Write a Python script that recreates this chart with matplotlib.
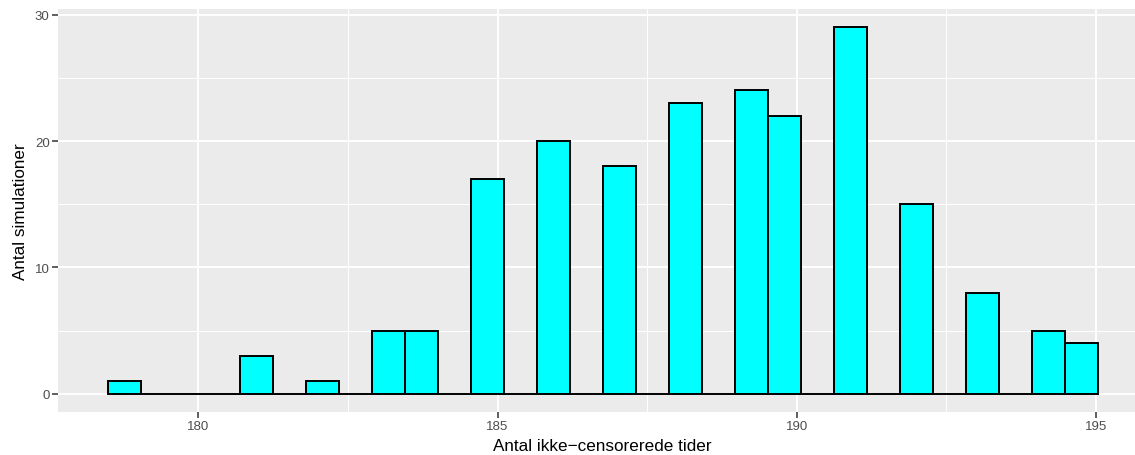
import numpy as np
import matplotlib
matplotlib.use("Agg")
import matplotlib.pyplot as plt
from matplotlib.ticker import MultipleLocator

# antal ikke-censorerede tider og hvor mange simulationer der gav dem
tider = [179, 180, 181, 182, 183, 184, 185, 186, 187, 188, 189, 190, 191, 192, 193, 194, 195]
antal = [1, 0, 3, 1, 5, 5, 17, 20, 18, 23, 24, 22, 29, 15, 8, 5, 4]

# ggplot2 bins=30 logic (right-closed bins)
nbins = 30
lo, hi = min(tider), max(tider)
width = (hi - lo) / (nbins - 1)
boundary = width / 2
shift = np.floor((lo - boundary) / width)
origin = boundary + shift * width
edges = origin + np.arange(nbins + 1) * width

fuzz = 1e-7 * width
idx = np.digitize(np.array(tider) - fuzz, edges, right=True) - 1
idx = np.clip(idx, 0, nbins - 1)
counts = np.zeros(nbins)
np.add.at(counts, idx, antal)

plt.rcParams['font.family'] = ['Liberation Sans', 'DejaVu Sans']

fig = plt.figure(figsize=(11.35, 4.56), dpi=100)
ax = fig.add_axes([58/1135, 43/456, 1089.6/1135, 403/456])
ax.set_facecolor('#EBEBEB')

ax.bar(edges[:-1], counts, width=width, align='edge', color='#00FFFF',
       edgecolor='black', linewidth=1.4, zorder=3)

xr = edges[-1] - edges[0]
ax.set_xlim(edges[0] - 0.05*xr, edges[-1] + 0.05*xr)
ax.set_ylim(-0.05*max(antal), max(antal)*1.05)

ax.xaxis.set_major_locator(MultipleLocator(5))
ax.xaxis.set_minor_locator(MultipleLocator(2.5))
ax.yaxis.set_major_locator(MultipleLocator(10))
ax.yaxis.set_minor_locator(MultipleLocator(5))
ax.grid(which='major', color='white', linewidth=1.4, zorder=0)
ax.grid(which='minor', color='white', linewidth=0.7, zorder=0)
ax.set_axisbelow(True)
for s in ax.spines.values():
    s.set_visible(False)
ax.tick_params(which='major', length=4, width=1.1, color='#333333',
               labelcolor='#4D4D4D', labelsize=9.5, pad=2)
ax.tick_params(which='minor', length=0)

ax.set_xlabel('Antal ikke\u2212censorerede tider', fontsize=12.3, labelpad=4)
ax.set_ylabel('Antal simulationer', fontsize=12.3, labelpad=5)

fig.savefig('out.png', dpi=100)
